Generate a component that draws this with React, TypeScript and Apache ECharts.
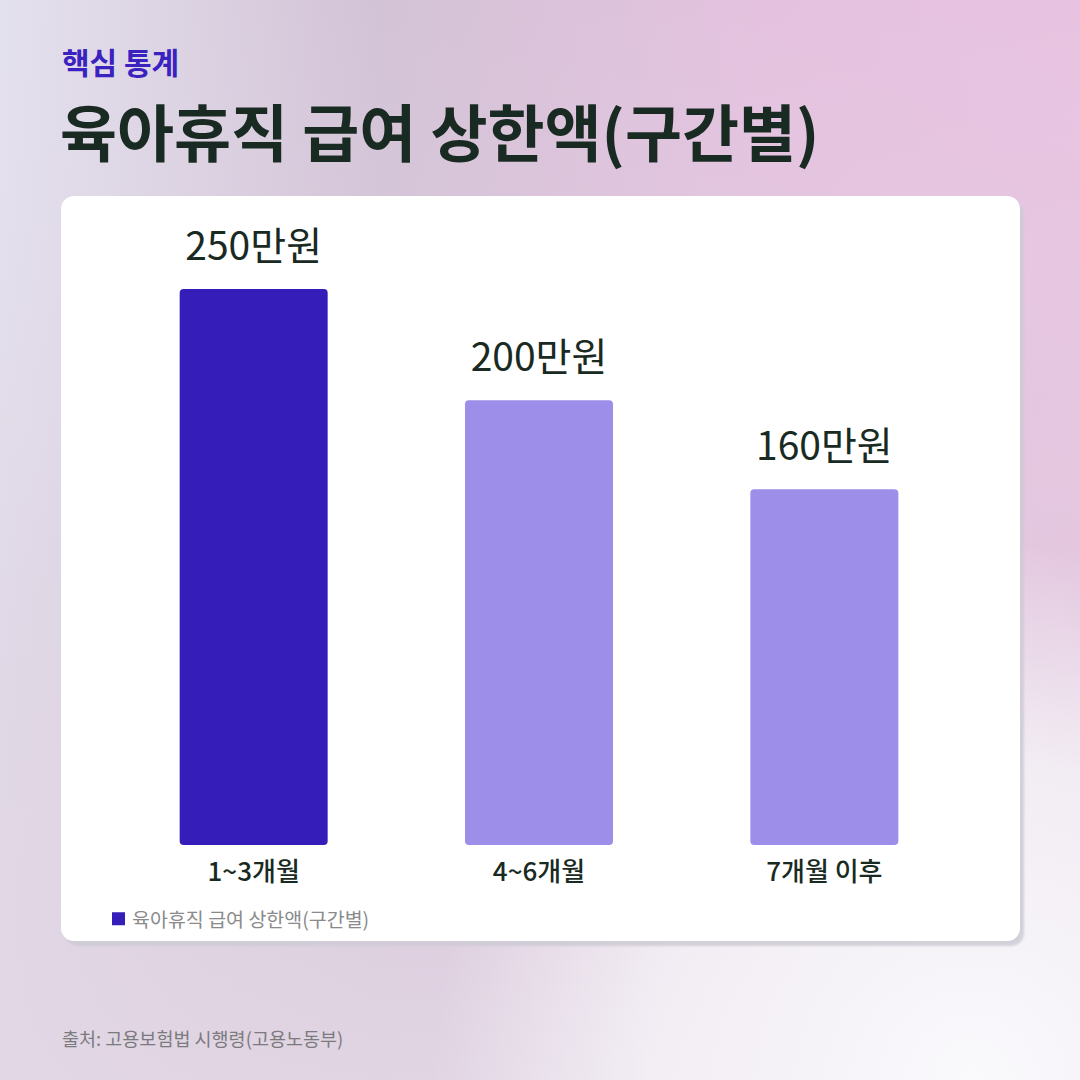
import { useEffect, useRef } from "react";
import * as echarts from "echarts";

// 구간별 상한액 (만원)
const categories = ["1~3개월", "4~6개월", "7개월 이후"];
const values = [250, 200, 160];
const barColors = ["#341db8", "#9d8eea", "#9d8eea"];
const seriesName = "육아휴직 급여 상한액(구간별)";
const eyebrow = "핵심 통계";
const title = "육아휴직 급여 상한액(구간별)";
const source = "출처: 고용보험법 시행령(고용노동부)";

const FONT = '"Noto Sans CJK KR", "Noto Sans", sans-serif';
const INK = "#192a22";

export default function App() {
  const ref = useRef<HTMLDivElement>(null);

  useEffect(() => {
    document.body.style.margin = "0";
    if (!ref.current) return;
    const chart = echarts.init(ref.current, undefined, { renderer: "svg" });

    chart.setOption({
      animation: false,
      backgroundColor: "transparent",
      graphic: [
        {
          type: "rect",
          z: -10,
          shape: { x: 0, y: 0, width: 1080, height: 1080 },
          style: {
            fill: new echarts.graphic.LinearGradient(0, 0, 1, 0, [
              { offset: 0, color: "#e4e1ee" },
              { offset: 0.35, color: "#d3c3d6" },
              { offset: 0.7, color: "#e4c2df" },
              { offset: 1, color: "#e8c3e1" },
            ]),
          },
        },
        {
          type: "rect",
          z: -9,
          shape: { x: 0, y: 0, width: 1080, height: 1080 },
          style: {
            fill: new echarts.graphic.LinearGradient(0, 0, 0, 1, [
              { offset: 0, color: "rgba(230,220,235,0)" },
              { offset: 0.5, color: "rgba(220,205,220,0.35)" },
              { offset: 1, color: "rgba(226,214,228,0.9)" },
            ]),
          },
        },
        {
          type: "rect",
          z: -8,
          shape: { x: 0, y: 0, width: 1080, height: 1080 },
          style: {
            fill: new echarts.graphic.RadialGradient(0.9, 1.0, 0.5, [
              { offset: 0, color: "rgba(250,249,252,1)" },
              { offset: 0.6, color: "rgba(246,244,248,0.8)" },
              { offset: 1, color: "rgba(246,244,248,0)" },
            ]),
          },
        },
        {
          type: "text",
          left: 62,
          top: 46,
          style: {
            text: eyebrow,
            font: `bold 30px ${FONT}`,
            fill: "#3a22c0",
          },
        },
        {
          type: "text",
          left: 60,
          top: 99,
          style: {
            text: title,
            font: `bold 62px ${FONT}`,
            fill: INK,
          },
        },
        {
          type: "rect",
          z: -2,
          shape: { x: 61, y: 196, width: 959, height: 745, r: 13 },
          style: {
            fill: "#ffffff",
            shadowColor: "rgba(205,203,212,0.85)",
            shadowOffsetX: 4,
            shadowOffsetY: 5,
            shadowBlur: 2,
          },
        },
        {
          type: "text",
          left: 62,
          top: 1029,
          style: {
            text: source,
            font: `18.5px ${FONT}`,
            fill: "#7b7b7e",
          },
        },
      ],
      grid: { left: 111, right: 113, top: 289, bottom: 235, containLabel: false },
      legend: {
        left: 112,
        top: 909,
        padding: 0,
        icon: "rect",
        itemWidth: 13,
        itemHeight: 13,
        itemGap: 8,
        data: [{ name: seriesName, itemStyle: { color: barColors[0] } }],
        textStyle: { color: "#8a8a8c", fontSize: 19.5, fontFamily: FONT, padding: [0, 0, 0, 2] },
      },
      xAxis: {
        type: "category",
        data: categories,
        axisLine: { show: false },
        axisTick: { show: false },
        axisLabel: {
          margin: 11,
          color: INK,
          fontSize: 26,
          fontWeight: 500,
          fontFamily: FONT,
        },
      },
      yAxis: {
        type: "value",
        min: 0,
        max: 250,
        show: false,
        splitLine: { show: false },
      },
      series: [
        {
          name: seriesName,
          type: "bar",
          barWidth: 148,
          data: values.map((v, i) => ({
            value: v,
            itemStyle: { color: barColors[i], borderRadius: 4 },
          })),
          label: {
            show: true,
            position: "top",
            distance: 27,
            formatter: "{c}만원",
            color: INK,
            fontSize: 39,
            fontFamily: FONT,
          },
        },
      ],
    });

    return () => chart.dispose();
  }, []);

  return (
    <div
      ref={ref}
      style={{ position: "absolute", left: 0, top: 0, width: 1080, height: 1080 }}
    />
  );
}
